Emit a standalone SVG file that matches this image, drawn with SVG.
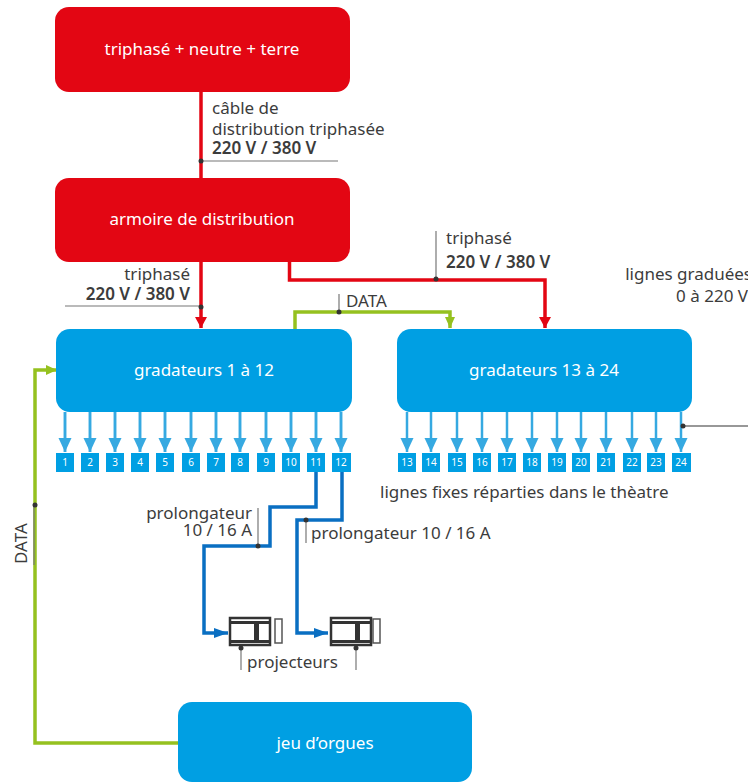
<svg xmlns="http://www.w3.org/2000/svg" width="748" height="782" viewBox="0 0 748 782">
<style>
text{font-family:"Noto Sans","Open Sans","Liberation Sans",sans-serif;fill:#3c3c3c;font-size:17px}
.w{fill:#fff;text-anchor:middle;font-size:17px}
.b{font-weight:600}
.e{text-anchor:end}
.n{fill:#fff;text-anchor:middle;font-size:10px}
.red{fill:#e30613}
.blue{fill:#009fe3}
.sq{fill:#009fe3}
.lr{fill:none;stroke:#e30613;stroke-width:3.5}
.lb{fill:none;stroke:#0a6fc2;stroke-width:3.5}
.lg{fill:none;stroke:#95c11f;stroke-width:3.5}
.lc{fill:none;stroke:#36a9e1;stroke-width:2.5}
.g{fill:none;stroke:#777;stroke-width:1.2}
.k{fill:none;stroke:#333;stroke-width:1.2}
.d{fill:#333}
.pj{fill:#fff;stroke:#333;stroke-width:2.5}
.pd{fill:#333}
</style>
<defs>
<marker id="ar" markerUnits="userSpaceOnUse" markerWidth="12" markerHeight="15" refX="11" refY="6" orient="auto"><path d="M0 0L11 6L0 12Z" fill="#e30613" transform="translate(0 0)"/></marker>
<marker id="ab" markerUnits="userSpaceOnUse" markerWidth="15" markerHeight="12" refX="14" refY="5" orient="auto"><path d="M0 0L14 5L0 10Z" fill="#0a6fc2"/></marker>
<marker id="ag" markerUnits="userSpaceOnUse" markerWidth="12" markerHeight="12" refX="11" refY="5" orient="auto"><path d="M0 0L11 5L0 10Z" fill="#95c11f"/></marker>
<marker id="ac" markerUnits="userSpaceOnUse" markerWidth="16" markerHeight="14" refX="14" refY="6.5" orient="auto"><path d="M0 0L14 6.500L0 13Z" fill="#36a9e1"/></marker>
</defs>
<g id="connectors">
<path class="lr" d="M201 92V178"/>
<path class="lr" d="M201 262V328" marker-end="url(#ar)"/>
<path class="lr" d="M289.500 262V280H545V328" marker-end="url(#ar)"/>
<path class="lg" d="M295 329V312H450V328" marker-end="url(#ag)"/>
<path class="lg" d="M178 743H35V370H57" marker-end="url(#ag)"/>
<path class="lb" d="M316 472V507H270V546H204V633H228" marker-end="url(#ab)"/>
<path class="lb" d="M342 472V520H297V633H328" marker-end="url(#ab)"/>
<g id="branches-left">
<path class="lc" d="M65 412V452M90 412V452M115 412V452M140 412V452M165 412V452M191 412V452M216 412V452M240 412V452M266 412V452M291 412V452M316 412V452M341 412V452" marker-end="none"/>
<path class="lc" d="M65 412V452" marker-end="url(#ac)"/><path class="lc" d="M90 412V452" marker-end="url(#ac)"/><path class="lc" d="M115 412V452" marker-end="url(#ac)"/><path class="lc" d="M140 412V452" marker-end="url(#ac)"/><path class="lc" d="M165 412V452" marker-end="url(#ac)"/><path class="lc" d="M191 412V452" marker-end="url(#ac)"/><path class="lc" d="M216 412V452" marker-end="url(#ac)"/><path class="lc" d="M240 412V452" marker-end="url(#ac)"/><path class="lc" d="M266 412V452" marker-end="url(#ac)"/><path class="lc" d="M291 412V452" marker-end="url(#ac)"/><path class="lc" d="M316 412V452" marker-end="url(#ac)"/><path class="lc" d="M341 412V452" marker-end="url(#ac)"/>
</g>
<g id="branches-right">
<path class="lc" d="M407 412V452" marker-end="url(#ac)"/><path class="lc" d="M431 412V452" marker-end="url(#ac)"/><path class="lc" d="M457 412V452" marker-end="url(#ac)"/><path class="lc" d="M482 412V452" marker-end="url(#ac)"/><path class="lc" d="M507 412V452" marker-end="url(#ac)"/><path class="lc" d="M532 412V452" marker-end="url(#ac)"/><path class="lc" d="M557 412V452" marker-end="url(#ac)"/><path class="lc" d="M581 412V452" marker-end="url(#ac)"/><path class="lc" d="M606 412V452" marker-end="url(#ac)"/><path class="lc" d="M632 412V452" marker-end="url(#ac)"/><path class="lc" d="M656 412V452" marker-end="url(#ac)"/><path class="lc" d="M681 412V452" marker-end="url(#ac)"/>
</g>
<g id="leaders">
<path class="g" d="M199 161H338"/><circle class="d" cx="201" cy="161" r="2.500"/>
<path class="g" d="M65 306H201"/><circle class="d" cx="201" cy="307" r="2.500"/>
<path class="g" d="M436 231V279"/><circle class="d" cx="436" cy="279" r="2.500"/>
<path class="g" d="M339 294V312"/><circle class="d" cx="339" cy="312" r="2.500"/>
<path class="g" d="M258 508V546"/><circle class="d" cx="258" cy="546" r="2.500"/>
<path class="g" d="M306 520V543"/><circle class="d" cx="306" cy="520" r="2.500"/>
<path class="k" d="M683 426H748"/><circle class="d" cx="683" cy="426" r="2.500"/>
<path class="g" d="M34 505V565"/><circle class="d" cx="35" cy="505" r="2.500"/>
<path class="g" d="M241 648V670"/><circle class="d" cx="241" cy="648" r="2.500"/>
<path class="g" d="M356 648V670"/><circle class="d" cx="356" cy="648" r="2.500"/>
</g>
</g>
<g id="n-alim"><rect class="red" x="55" y="7" width="295" height="85" rx="14"/><text class="w" x="202" y="55">triphasé + neutre + terre</text></g>
<g id="n-armoire"><rect class="red" x="55" y="178" width="295" height="84" rx="14"/><text class="w" x="202" y="225">armoire de distribution</text></g>
<g id="n-grad1"><rect class="blue" x="56" y="329" width="296" height="83" rx="14"/><text class="w" x="204" y="376">gradateurs 1 à 12</text></g>
<g id="n-grad2"><rect class="blue" x="397" y="329" width="295" height="83" rx="14"/><text class="w" x="544" y="376">gradateurs 13 à 24</text></g>
<g id="n-jeu"><rect class="blue" x="178" y="702" width="294" height="80" rx="14"/><text class="w" x="325" y="749">jeu d’orgues</text></g>
<g id="lines-left">
<rect class="sq" x="56" y="453" width="18" height="19"/><text class="n" x="65" y="466">1</text>
<rect class="sq" x="81" y="453" width="18" height="19"/><text class="n" x="90" y="466">2</text>
<rect class="sq" x="106" y="453" width="18" height="19"/><text class="n" x="115" y="466">3</text>
<rect class="sq" x="131" y="453" width="18" height="19"/><text class="n" x="140" y="466">4</text>
<rect class="sq" x="156" y="453" width="18" height="19"/><text class="n" x="165" y="466">5</text>
<rect class="sq" x="182" y="453" width="18" height="19"/><text class="n" x="191" y="466">6</text>
<rect class="sq" x="207" y="453" width="18" height="19"/><text class="n" x="216" y="466">7</text>
<rect class="sq" x="231" y="453" width="18" height="19"/><text class="n" x="240" y="466">8</text>
<rect class="sq" x="257" y="453" width="18" height="19"/><text class="n" x="266" y="466">9</text>
<rect class="sq" x="282" y="453" width="18" height="19"/><text class="n" x="291" y="466">10</text>
<rect class="sq" x="307" y="453" width="18" height="19"/><text class="n" x="316" y="466">11</text>
<rect class="sq" x="332" y="453" width="19" height="19"/><text class="n" x="341" y="466">12</text>
</g>
<g id="lines-right">
<rect class="sq" x="398" y="453" width="18" height="19"/><text class="n" x="407" y="466">13</text>
<rect class="sq" x="422" y="453" width="18" height="19"/><text class="n" x="431" y="466">14</text>
<rect class="sq" x="448" y="453" width="18" height="19"/><text class="n" x="457" y="466">15</text>
<rect class="sq" x="473" y="453" width="18" height="19"/><text class="n" x="482" y="466">16</text>
<rect class="sq" x="498" y="453" width="18" height="19"/><text class="n" x="507" y="466">17</text>
<rect class="sq" x="523" y="453" width="18" height="19"/><text class="n" x="532" y="466">18</text>
<rect class="sq" x="548" y="453" width="18" height="19"/><text class="n" x="557" y="466">19</text>
<rect class="sq" x="572" y="453" width="18" height="19"/><text class="n" x="581" y="466">20</text>
<rect class="sq" x="597" y="453" width="18" height="19"/><text class="n" x="606" y="466">21</text>
<rect class="sq" x="623" y="453" width="18" height="19"/><text class="n" x="632" y="466">22</text>
<rect class="sq" x="647" y="453" width="18" height="19"/><text class="n" x="656" y="466">23</text>
<rect class="sq" x="672" y="453" width="19" height="19"/><text class="n" x="681" y="466">24</text>
</g>
<g id="n-proj1">
<rect class="pj" x="230" y="618" width="40" height="27"/><rect class="pd" x="231" y="621" width="38" height="3"/><rect class="pd" x="231" y="640" width="38" height="3"/><rect class="pd" x="254" y="623" width="5" height="18"/><rect x="275" y="619" width="7" height="24" fill="#fff" stroke="#555" stroke-width="1.500"/>
</g>
<g id="n-proj2">
<rect class="pj" x="331" y="618" width="40" height="27"/><rect class="pd" x="332" y="621" width="38" height="3"/><rect class="pd" x="332" y="640" width="38" height="3"/><rect class="pd" x="355" y="623" width="5" height="18"/><rect x="373" y="619" width="7" height="24" fill="#fff" stroke="#555" stroke-width="1.500"/>
</g>
<g id="labels">
<text x="212" y="114">câble de</text>
<text x="212" y="135">distribution triphasée</text>
<text class="b" x="212" y="154">220 V / 380 V</text>
<text class="e" x="190" y="280">triphasé</text>
<text class="b e" x="190" y="300">220 V / 380 V</text>
<text x="446" y="244">triphasé</text>
<text class="b" x="446" y="268">220 V / 380 V</text>
<text x="346" y="307">DATA</text>
<text class="e" x="752" y="280">lignes graduées</text>
<text class="e" x="748" y="302">0 à 220 V</text>
<text x="380" y="498">lignes fixes réparties dans le thèatre</text>
<text class="e" x="252" y="519">prolongateur</text>
<text class="e" x="252" y="536">10 / 16 A</text>
<text x="311" y="539">prolongateur 10 / 16 A</text>
<text x="247" y="668">projecteurs</text>
<text transform="translate(27 564) rotate(-90)">DATA</text>
</g>
</svg>
